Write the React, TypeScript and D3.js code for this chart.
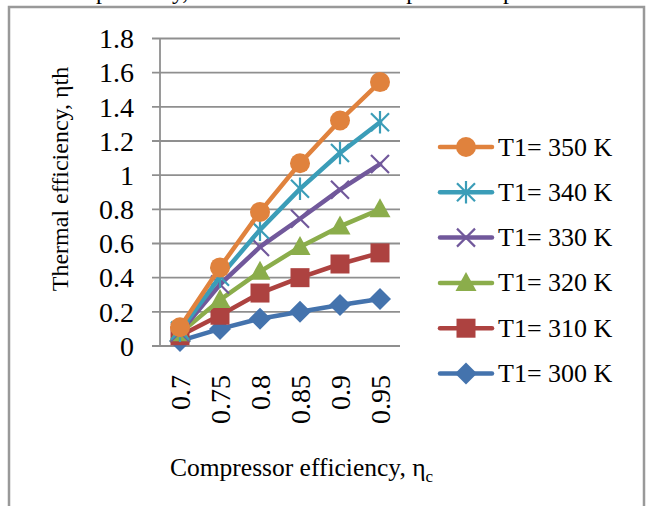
import React from "react";
import * as d3 from "d3";

const categories = ["0.7", "0.75", "0.8", "0.85", "0.9", "0.95"];
const yTicks = [0, 0.2, 0.4, 0.6, 0.8, 1, 1.2, 1.4, 1.6, 1.8];

const s350 = [0.11, 0.46, 0.785, 1.07, 1.32, 1.545];
const s340 = [0.09, 0.405, 0.68, 0.92, 1.13, 1.31];
const s330 = [0.08, 0.36, 0.58, 0.745, 0.915, 1.065];
const s320 = [0.075, 0.27, 0.435, 0.58, 0.7, 0.8];
const s310 = [0.06, 0.18, 0.31, 0.4, 0.48, 0.545];
const s300 = [0.03, 0.1, 0.16, 0.2, 0.24, 0.275];

const seriesNames = ["T1= 350 K", "T1= 340 K", "T1= 330  K", "T1= 320 K", "T1= 310 K", "T1= 300 K"];
const seriesValues = [s350, s340, s330, s320, s310, s300];
const seriesColors = ["#E0823D", "#3B9DB8", "#71589B", "#8BAD4B", "#AD4240", "#4473AD"];
const seriesMarkers = ["circle", "star", "x", "triangle", "square", "diamond"];

const FONT = "'Liberation Serif', 'Times New Roman', serif";

function Marker({ type, x, y, color }: { type: string; x: number; y: number; color: string }) {
  switch (type) {
    case "circle":
      return <circle cx={x} cy={y} r={10} fill={color} />;
    case "square":
      return <rect x={x - 9.5} y={y - 9.5} width={19} height={19} fill={color} />;
    case "diamond":
      return <path d={`M${x},${y - 11}L${x + 11},${y}L${x},${y + 11}L${x - 11},${y}Z`} fill={color} />;
    case "triangle":
      return <path d={`M${x},${y - 11}L${x + 10.5},${y + 8}L${x - 10.5},${y + 8}Z`} fill={color} />;
    case "x": {
      const r = 9;
      return (
        <path
          d={`M${x - r},${y - r}L${x + r},${y + r}M${x - r},${y + r}L${x + r},${y - r}`}
          stroke={color}
          strokeWidth={2.2}
        />
      );
    }
    case "star": {
      const r = 9;
      return (
        <path
          d={`M${x - r},${y - r}L${x + r},${y + r}M${x - r},${y + r}L${x + r},${y - r}M${x},${y - r * 1.25}L${x},${y + r * 1.25}`}
          stroke={color}
          strokeWidth={2.2}
        />
      );
    }
    default:
      return null;
  }
}

export default function App() {
  const W = 648;
  const H = 506;
  const x = d3.scaleBand<string>().domain(categories).range([160, 400]);
  const y = d3.scaleLinear().domain([0, 1.8]).range([346, 38.5]);
  const cx = (c: string) => (x(c) as number) + x.bandwidth() / 2;

  const line = d3
    .line<number>()
    .x((_, i) => cx(categories[i]))
    .y((d) => y(d));

  const legendY0 = 147;
  const legendStep = 45.3;

  return (
    <svg
      width={W}
      height={H}
      style={{ position: "absolute", left: 0, top: 0, background: "#fff" }}
      fontFamily={FONT}
    >
      <rect x={0} y={0} width={W} height={H} fill="#fff" />
      {/* cut-off text line at top (continuation of the page text above the figure) */}
      <text x={18} y={-1} fontSize={24} fill="#000">
        ratio respectively, the leads to increased power output
      </text>
      {/* frame */}
      <path d={`M9,${H + 2}L9,7L644,7L644,${H + 2}`} fill="none" stroke="#999" strokeWidth={2.5} />

      {/* gridlines */}
      {yTicks.map((t) => (
        <line key={t} x1={152} x2={400} y1={y(t)} y2={y(t)} stroke="#8f8f8f" strokeWidth={1.8} />
      ))}
      <line x1={160} x2={160} y1={y(1.8)} y2={y(0)} stroke="#8f8f8f" strokeWidth={1.8} />

      {/* y tick labels */}
      {yTicks.map((t) => (
        <text key={t} x={134} y={y(t)} dy="0.35em" textAnchor="end" fontSize={28} fill="#000">
          {d3.format("~g")(t)}
        </text>
      ))}

      {/* x tick labels */}
      {categories.map((c) => (
        <text
          key={c}
          transform={`translate(${cx(c)},375) rotate(-90)`}
          dy="0.35em"
          textAnchor="end"
          fontSize={28}
          fill="#000"
        >
          {c}
        </text>
      ))}

      {/* axis titles */}
      <text transform="translate(68,179) rotate(-90)" textAnchor="middle" fontSize={24} fill="#000">
        Thermal efficiency, ηth
      </text>
      <text x={170} y={476} fontSize={25.5} fill="#000">
        Compressor efficiency, η<tspan fontSize={17} dy={6}>c</tspan>
      </text>

      {/* series, drawn from lowest to highest so orange is on top */}
      {seriesValues
        .map((vals, i) => ({ vals, i }))
        .reverse()
        .map(({ vals, i }) => (
          <g key={i}>
            <path
              d={line(vals) || ""}
              fill="none"
              stroke={seriesColors[i]}
              strokeWidth={4.5}
              strokeLinejoin="round"
              strokeLinecap="round"
            />
            {vals.map((v, j) => (
              <Marker key={j} type={seriesMarkers[i]} x={cx(categories[j])} y={y(v)} color={seriesColors[i]} />
            ))}
          </g>
        ))}

      {/* legend */}
      {seriesNames.map((name, i) => {
        const ly = legendY0 + i * legendStep;
        return (
          <g key={name}>
            <line x1={440} x2={492} y1={ly} y2={ly} stroke={seriesColors[i]} strokeWidth={4.5} strokeLinecap="round" />
            <Marker type={seriesMarkers[i]} x={466} y={ly} color={seriesColors[i]} />
            <text x={498} y={ly} dy="0.33em" fontSize={26} fill="#000">
              {name}
            </text>
          </g>
        );
      })}
    </svg>
  );
}
